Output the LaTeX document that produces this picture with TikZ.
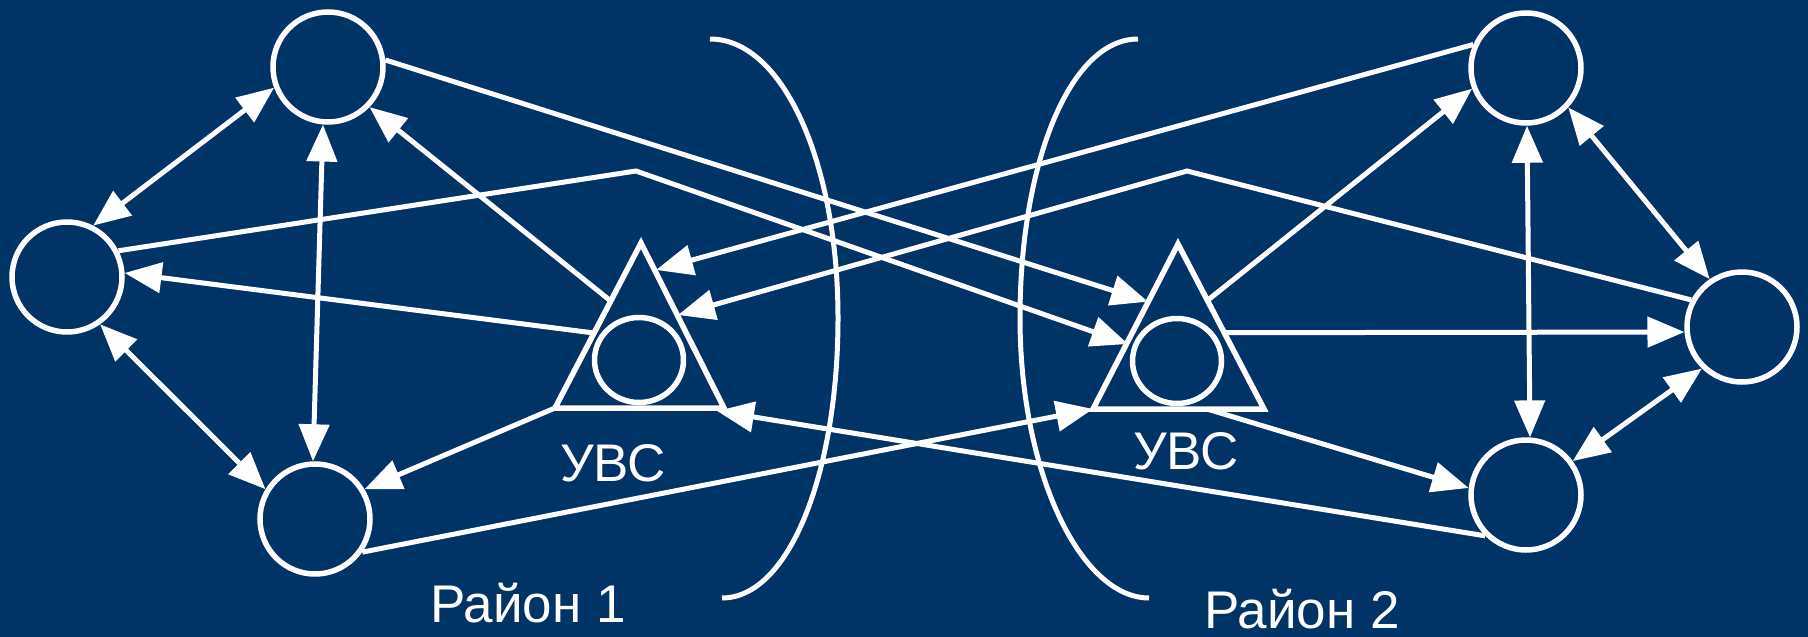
\documentclass[tikz,border=0pt]{standalone}
\usepackage{fontspec}
\setmainfont{Liberation Sans}
\usetikzlibrary{arrows.meta,shapes.geometric,calc}
\definecolor{bg}{RGB}{0,51,102}
\begin{document}
\begin{tikzpicture}[x=1pt,y=-1pt,
  stn/.style={circle,draw=white,line width=5.5pt,minimum size=110pt,inner sep=0pt},
  innerc/.style={ellipse,draw=white,line width=5.5pt,minimum width=89pt,minimum height=85pt,inner sep=0pt},
  tri/.style={draw=white,line width=5.5pt,line join=miter},
  conn/.style={draw=white,line width=5pt},
  arr/.style={conn,-{Triangle[length=37pt,width=30pt]}},
  darr/.style={conn,{Triangle[length=37pt,width=30pt]}-{Triangle[length=37pt,width=30pt]}},
  lbl/.style={text=white,font=\fontsize{53}{60}\selectfont,inner sep=0pt,anchor=base},
  brk/.style={draw=white,line width=5pt}
]
\fill[bg] (0,0) rectangle (1808,637);
\useasboundingbox (0,0) rectangle (1808,637);

% brackets
\draw[brk] (710,39) .. controls (783,39) and (838,163) .. (838,318) .. controls (838,473) and (789,598) .. (722,598);
\draw[brk] (1138,39) .. controls (1070,39) and (1020,163) .. (1020,318) .. controls (1020,473) and (1081,598) .. (1149,598);

% stations
\node[stn] (A) at (328,67) {};
\node[stn] (B) at (67,277) {};
\node[stn] (C) at (315,519) {};
\node[stn] (D) at (1526,68) {};
\node[stn] (E) at (1742,327) {};
\node[stn] (F) at (1526,495) {};

% triangles
\coordinate (t1a) at (641,243); \coordinate (t1l) at (555,408); \coordinate (t1r) at (724,408);
\draw[tri] (t1a) -- (t1l) -- (t1r) -- cycle;
\node[innerc] (t1c) at (639,360) {};
\coordinate (t2a) at (1178,244); \coordinate (t2l) at (1093,409); \coordinate (t2r) at (1264,409);
\draw[tri] (t2a) -- (t2l) -- (t2r) -- cycle;
\node[innerc] (t2c) at (1177,361) {};

% labels
\node[lbl] (l1) at (613,481.5) {УВС};
\node[lbl] (l2) at (1186,469.3) {УВС};
\node[lbl] (r1) at (528,622) {Район 1};
\node[lbl] (r2) at (1302,628) {Район 2};

% named free ends
\coordinate (t2in1) at (1148,301.7);
\coordinate (bend1) at (636,171);
\coordinate (t2in2) at (1128,344);
\coordinate (t1o1) at (612,302);
\coordinate (t1o2) at (594,333);
\coordinate (t1in1) at (656,270);
\coordinate (bend2) at (1187,171);
\coordinate (t1in2) at (678,315);
\coordinate (t1in3) at (717,411);
\coordinate (t2o1) at (1208,300);
\coordinate (t2o2) at (1225,332.7);
\coordinate (t2o3) at (1207,409);

% left cluster
\draw[darr] (A.201) -- (B.63);
\draw[darr] (A.-95) -- (C.92);
\draw[darr] (B.-55) -- (C.149);
\draw[arr] (A.7) -- (t2in1);
\draw[arr] (B.27.5) -- (bend1) -- (t2in2);
\draw[arr] (t1o1) -- (A.-44);
\draw[arr] (t1o2) -- (B.4);
\draw[arr] (t1l) -- (C.31);
\draw[arr] (C.-35) -- (t2l);

% right cluster
\draw[arr] (D.156) -- (t1in1);
\draw[arr] (E.152.6) -- (bend2) -- (t1in2);
\draw[arr] (F.225.7) -- (t1in3);
\draw[arr] (t2o1) -- (D.201);
\draw[arr] (t2o2) -- (E.185.7);
\draw[arr] (t2o3) -- (F.173.3);
\draw[darr] (D.-43) -- (E.124);
\draw[darr] (D.-89) -- (F.86);
\draw[darr] (F.36) -- (E.226.6);
\end{tikzpicture}
\end{document}
